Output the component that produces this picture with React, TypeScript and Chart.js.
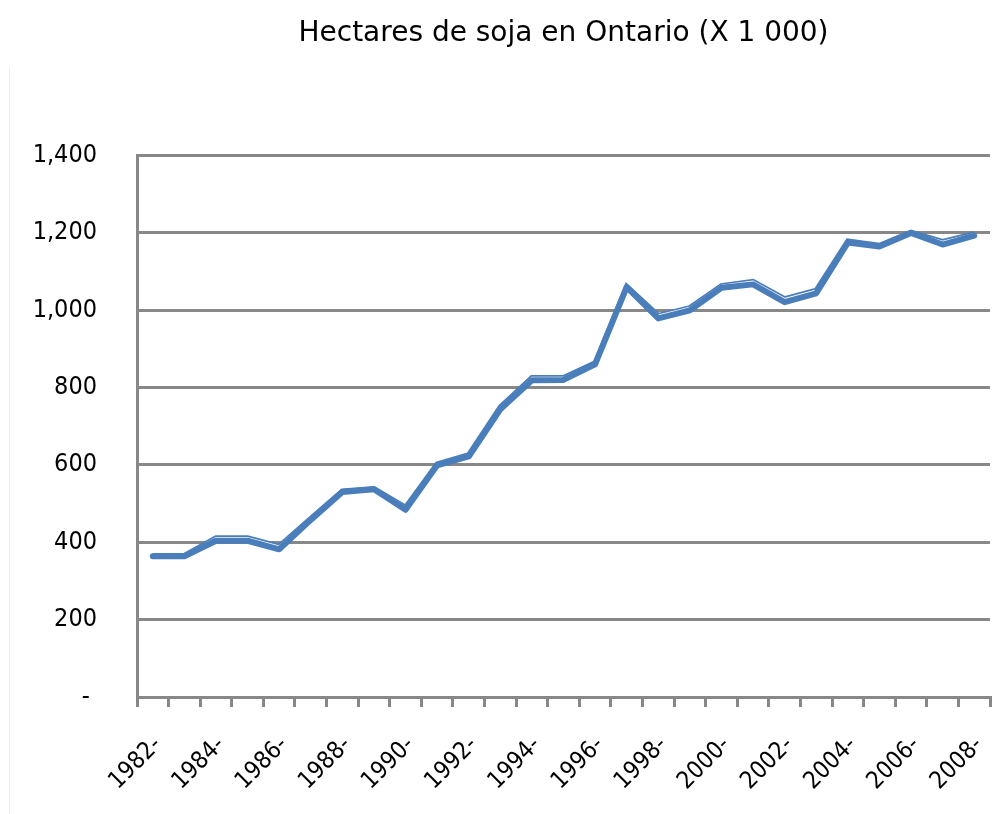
import { useEffect, useRef } from 'react';
import { Chart, registerables } from 'chart.js';

Chart.register(...registerables);

const categories = [
  '1982-', '1983-', '1984-', '1985-', '1986-', '1987-', '1988-', '1989-', '1990-',
  '1991-', '1992-', '1993-', '1994-', '1995-', '1996-', '1997-', '1998-', '1999-',
  '2000-', '2001-', '2002-', '2003-', '2004-', '2005-', '2006-', '2007-', '2008-',
];

const thickSeries = [
  364, 364, 404, 404, 382, 458, 530, 537, 484,
  599, 622, 744, 819, 820, 860, 1060, 979, 1000,
  1058, 1067, 1021, 1044, 1175, 1165, 1200, 1170, 1193,
];

const doubleSeries = [
  366, 366, 412, 412, 390, 462, 533, 539, 491,
  603, 627, 750, 826, 826, 864, 1062, 987, 1007,
  1064, 1075, 1030, 1052, 1179, 1168, 1202, 1178, 1198,
];

const yMin = 0;
const yMax = 1400;
const yStep = 200;

const titleText = 'Hectares de soja en Ontario (X 1 000)';

const TICK_FONT = "'DejaVu Sans Condensed', 'DejaVu Sans', sans-serif";
const TITLE_FONT = "'DejaVu Sans', sans-serif";
const BLUE = '#4A7EBB';
const GRID = '#888888';

export default function App() {
  const ref = useRef<HTMLCanvasElement>(null);

  useEffect(() => {
    const chart = new Chart(ref.current!, {
      type: 'line',
      data: {
        labels: categories,
        datasets: [
          {
            label: 'Hectares',
            data: thickSeries,
            borderColor: BLUE,
            borderWidth: 6,
            pointRadius: 0,
            tension: 0,
            order: 0,
            borderJoinStyle: 'round',
            borderCapStyle: 'round',
          },
          {
            label: 'inner',
            data: doubleSeries,
            borderColor: '#ffffff',
            borderWidth: 1.5,
            pointRadius: 0,
            tension: 0,
            order: 1,
          },
          {
            label: 'outer',
            data: doubleSeries,
            borderColor: BLUE,
            borderWidth: 5,
            pointRadius: 0,
            tension: 0,
            order: 2,
          },
        ],
      },
      options: {
        animation: false,
        responsive: false,
        devicePixelRatio: 1,
        layout: { padding: { left: 0, right: 16, top: 0, bottom: 0 } },
        plugins: {
          legend: { display: false },
          tooltip: { enabled: false },
          title: {
            display: true,
            fullSize: false,
            text: titleText,
            color: '#000',
            font: { family: TITLE_FONT, size: 28, weight: 'normal' },
            padding: { top: 17, bottom: 105 },
            align: 'center',
          },
        },
        scales: {
          x: {
            offset: true,
            grid: {
              offset: true,
              drawOnChartArea: false,
              drawTicks: true,
              tickLength: 10,
              color: GRID,
              lineWidth: 3,
            },
            border: { display: true, color: GRID, width: 3 },
            ticks: {
              autoSkip: false,
              maxRotation: 45,
              minRotation: 45,
              padding: 24,
              labelOffset: 5,
              color: '#000',
              font: { family: TICK_FONT, size: 24 },
              callback: (_v: any, i: number) => (i % 2 === 0 ? categories[i] : ''),
            },
            afterFit: (s: any) => {
              s.height = 117;
              s.paddingLeft = 0;
              s.paddingRight = 0;
            },
          },
          y: {
            min: yMin,
            max: yMax,
            ticks: {
              stepSize: yStep,
              padding: 40,
              color: '#000',
              font: { family: TICK_FONT, size: 25 },
              callback: (v: any) => (v === 0 ? '- ' : Number(v).toLocaleString('en-US')),
            },
            grid: { color: GRID, lineWidth: 3, drawTicks: false },
            border: { display: true, color: GRID, width: 3 },
            afterFit: (s: any) => {
              s.width = 137;
            },
          },
        },
      },
    });
    return () => chart.destroy();
  }, []);

  return (
    <div style={{ position: 'absolute', left: 0, top: 0, width: 1006, height: 814, background: '#fff' }}>
      <div
        style={{
          position: 'absolute',
          left: 9,
          top: 68,
          width: 0,
          height: 746,
          borderLeft: '1px solid #ececec',
        }}
      />
      <canvas ref={ref} width={1006} height={814} style={{ display: 'block' }} />
    </div>
  );
}
